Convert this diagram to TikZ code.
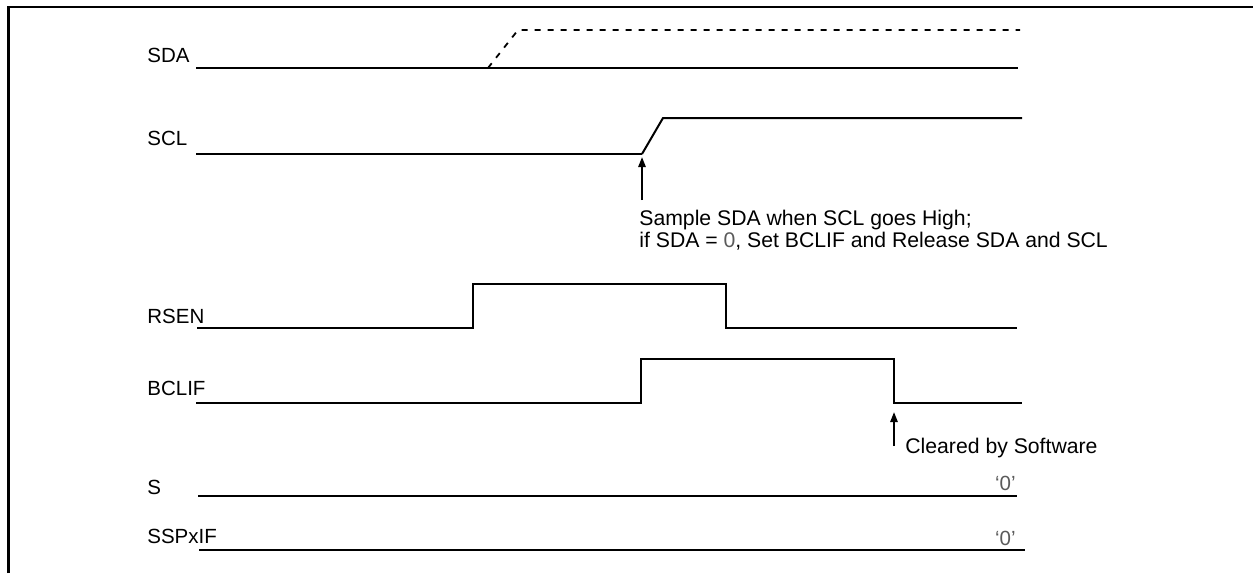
\documentclass[tikz,border=0pt]{standalone}
\usepackage{fontspec}
\setmainfont{Liberation Sans}
\usetikzlibrary{arrows.meta}
\definecolor{zerogray}{RGB}{90,90,90}
\tikzset{
    signal/.style={line width=1pt, line join=miter},
    thin signal/.style={line width=0.7pt},
    maybe signal/.style={line width=0.9pt, dash pattern=on 3pt off 3.5pt},
    sig label/.style={anchor=base west, inner sep=0pt},
    note/.style={anchor=base west, inner sep=0pt, align=left,
        font=\fontsize{10.6}{11}\selectfont},
    note arrow/.style={line width=1pt, -{Triangle[length=5pt,width=3.6pt]}},
    zero label/.style={anchor=base east, inner sep=0pt, text=zerogray}
}
\begin{document}
\begin{tikzpicture}[x=0.5pt, y=-0.5pt, font=\fontsize{10.25}{11}\selectfont]
        \useasboundingbox (0,0) rectangle (1253,573);
        % Frame (open on the right and bottom)
        \draw[line width=1.3pt] (8.5,573) -- (8.5,7) -- (1253,7);

        % Signal names
        \node[sig label] (sda)    at (147,62)  {SDA};
        \node[sig label] (scl)    at (147,145) {SCL};
        \node[sig label] (rsen)   at (147,323) {RSEN};
        \node[sig label] (bclif)  at (147,395) {BCLIF};
        \node[sig label] (s)      at (147,494) {S};
        \node[sig label] (sspxif) at (147,543) {SSPxIF};

        % Waveforms
        \draw[signal] (196,68) -- (1018,68);                      % SDA
        \draw[maybe signal] (488,68) -- (518,30) -- (1020,30);
        \draw[thin signal] (196,154) -- (642,154);                % SCL
        \draw[signal] (642,154) -- (663,118) -- (1022,118);
        \draw[signal] (197,328) -- (473,328) -- (473,284)
            -- (726,284) -- (726,328) -- (1017,328);              % RSEN
        \draw[signal] (196,403) -- (641,403) -- (641,359)
            -- (894,359) -- (894,403) -- (1022,403);              % BCLIF
        \draw[signal] (198,496) -- (1017,496);                    % S
        \draw[signal] (199,550) -- (1025,550);                    % SSPxIF

        \node[zero label] (zeroS)   at (1016,490) {‘0’};
        \node[zero label] (zeroSSP) at (1016,545) {‘0’};

        % Notes and their arrows
        \coordinate (sclEdge)    at (642,157);
        \coordinate (sampleTail) at (642,200);
        \coordinate (bclifEdge)  at (894,412);
        \coordinate (clearTail)  at (894,446);
        \node[note] (sample) at (639,247)
            {Sample SDA when SCL goes High;\\if SDA = {\color{zerogray}0}, Set BCLIF and Release SDA and SCL};
        \node[note] (cleared) at (905,453) {Cleared by Software};
        \draw[note arrow] (sampleTail) -- (sclEdge);
        \draw[note arrow] (clearTail) -- (bclifEdge);
    \end{tikzpicture}
\end{document}
